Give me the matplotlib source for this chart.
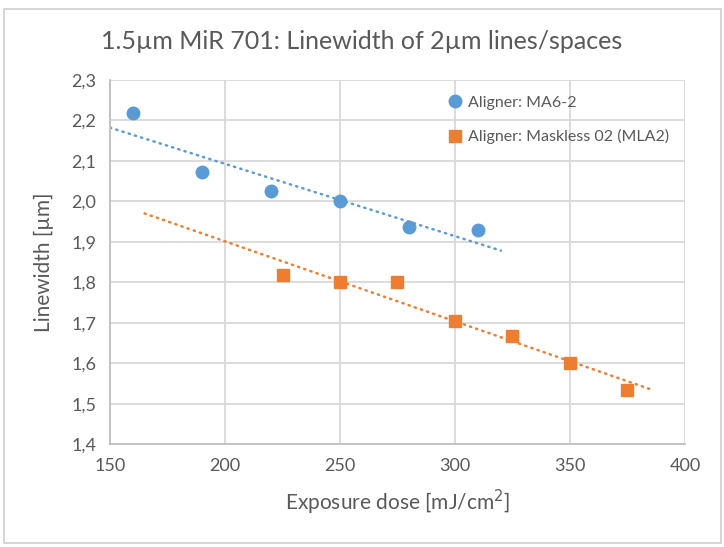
import numpy as np
import matplotlib.pyplot as plt
from matplotlib.patches import Rectangle

plt.rcParams['font.family'] = ['Lato', 'DejaVu Sans']

# Measured data
doseMA6      = [160, 190, 220, 250, 280, 310]
widthMA6     = [2.217, 2.073, 2.025, 2.000, 1.936, 1.929]
doseMLA2     = [225, 250, 275, 300, 325, 350, 375]
widthMLA2    = [1.818, 1.800, 1.800, 1.705, 1.667, 1.600, 1.535]

labelMA6     = "Aligner: MA6-2"
labelMLA2    = "Aligner: Maskless 02 (MLA2)"
xTicks       = [150, 200, 250, 300, 350, 400]
yTicks       = [1.4, 1.5, 1.6, 1.7, 1.8, 1.9, 2.0, 2.1, 2.2, 2.3]

blue   = '#5B9BD5'
orange = '#ED7D31'
text   = '#595959'
grid   = '#D9D9D9'

fig = plt.figure(figsize=(7.24, 5.47), dpi=100)
ax  = fig.add_axes([0.152, 0.188, 0.794, 0.666])

# Linear trendlines (Excel-style, with forecast)
p1 = np.polyfit(doseMA6, widthMA6, 1)
x1 = np.array([min(doseMA6) - 10, max(doseMA6) + 10])
p2 = np.polyfit(doseMLA2, widthMLA2, 1)
x2 = np.array([min(doseMLA2) - 60, max(doseMLA2) + 10])
dotted = (0, (0.5, 2.1))
ax.plot(x1, np.polyval(p1, x1), color=blue, lw=1.8, ls=dotted, dash_capstyle='round', zorder=2)
ax.plot(x2, np.polyval(p2, x2), color=orange, lw=1.8, ls=dotted, dash_capstyle='round', zorder=2)

ax.plot(doseMA6, widthMA6, 'o', color=blue, ms=9, label=labelMA6, zorder=3)
ax.plot(doseMLA2, widthMLA2, 's', color=orange, ms=9, label=labelMLA2, zorder=3)

ax.set_xlim(150, 400)
ax.set_ylim(1.4, 2.3)
ax.set_xticks(xTicks)
ax.set_yticks(yTicks)
ax.set_yticklabels([f"{v:.1f}".replace('.', ',') for v in yTicks])
ax.tick_params(length=0, labelsize=13, colors=text, pad=10)
ax.grid(True, color=grid, lw=1.3)
ax.set_axisbelow(True)
for s in ['top', 'right']:
    ax.spines[s].set_visible(False)
for s in ['left', 'bottom']:
    ax.spines[s].set_color('#BFBFBF')
    ax.spines[s].set_linewidth(1.3)

ax.set_xlabel("Exposure dose [mJ/cm$^2$]", fontsize=15, color=text, labelpad=10)
ax.set_ylabel("Linewidth [µm]", fontsize=15, color=text, labelpad=12)
fig.text(0.5, 0.925, "1.5µm MiR 701: Linewidth of 2µm lines/spaces", ha='center', va='center',
         fontsize=18, color=text)

leg = ax.legend(loc='upper right', frameon=False, fontsize=11.5, handletextpad=0.3,
                labelspacing=1.2, borderaxespad=0.6, handlelength=1.0)
for t in leg.get_texts():
    t.set_color(text)

fig.patches.append(Rectangle((0.006, 0.008), 0.99, 0.975, transform=fig.transFigure,
                             fill=False, edgecolor='#D0D0D0', lw=1.2))

fig.savefig('out.png', dpi=100)
